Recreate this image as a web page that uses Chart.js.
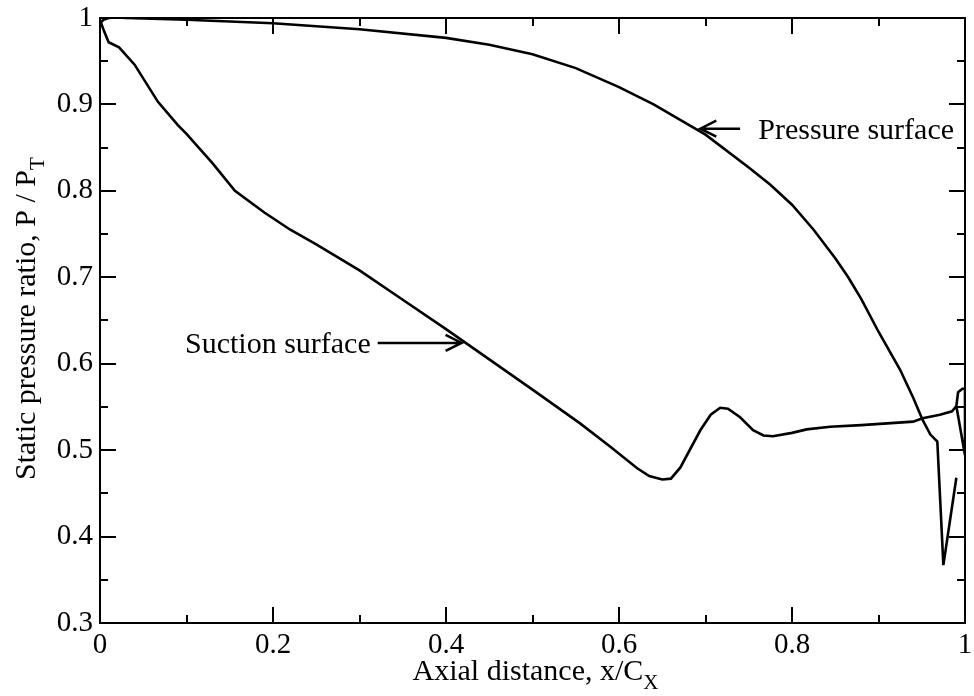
<!DOCTYPE html>
<html>
<head>
<meta charset="utf-8">
<script src="https://cdn.jsdelivr.net/npm/chart.js@4/dist/chart.umd.min.js"></script>
<style>
  html, body { margin: 0; padding: 0; background: #fff; }
  #wrap { width: 974px; height: 696px; }
</style>
</head>
<body>
<div id="wrap"><canvas id="cpChart" width="974" height="696"></canvas></div>
<script>
// surface static pressure along the blade

const pressureX = [0.001, 0.004, 0.01, 0.02, 0.03, 0.1, 0.2, 0.3, 0.4, 0.45, 0.5, 0.55, 0.6, 0.64, 0.7, 0.75, 0.775, 0.8, 0.825, 0.85, 0.865, 0.88, 0.9, 0.925, 0.94, 0.951, 0.96, 0.968, 0.975, 0.99];
const pressureY = [0.995, 0.998, 1.0, 1.001, 1.0, 0.998, 0.994, 0.987, 0.977, 0.969, 0.958, 0.942, 0.92, 0.9, 0.865, 0.827, 0.807, 0.784, 0.755, 0.722, 0.7, 0.675, 0.637, 0.593, 0.561, 0.535, 0.518, 0.51, 0.367, 0.468];

const suctionX = [0.001, 0.005, 0.01, 0.022, 0.04, 0.067, 0.09, 0.1, 0.13, 0.156, 0.19, 0.22, 0.25, 0.3, 0.35, 0.4, 0.45, 0.5, 0.555, 0.59, 0.621, 0.635, 0.65, 0.66, 0.671, 0.694, 0.706, 0.717, 0.726, 0.74, 0.755, 0.767, 0.778, 0.8, 0.817, 0.844, 0.88, 0.94, 0.951, 0.971, 0.985, 0.99, 0.992, 0.997, 1.0, 1.0, 0.99];
const suctionY = [0.995, 0.984, 0.972, 0.966, 0.946, 0.903, 0.876, 0.866, 0.832, 0.8, 0.775, 0.755, 0.738, 0.708, 0.674, 0.64, 0.605, 0.57, 0.531, 0.504, 0.479, 0.47, 0.466, 0.467, 0.48, 0.523, 0.541, 0.549, 0.548, 0.538, 0.523, 0.517, 0.516, 0.52, 0.524, 0.527, 0.529, 0.533, 0.537, 0.541, 0.545, 0.551, 0.567, 0.571, 0.571, 0.494, 0.551];

const xMajor = [0, 0.2, 0.4, 0.6, 0.8, 1];
const xMinor = [0.1, 0.3, 0.5, 0.7, 0.9];
const yMajor = [0.3, 0.4, 0.5, 0.6, 0.7, 0.8, 0.9, 1];
const yMinor = [0.35, 0.45, 0.55, 0.65, 0.75, 0.85, 0.95];

const FONT = "'Liberation Serif', 'DejaVu Serif', serif";

function toPoints(xs, ys) {
    return xs.map((x, i) => ({ x: x, y: ys[i] }));
}

// frame, inward ticks, arrows and axis titles (grace style)
const gracePlot = {
    id: "gracePlot",
    afterDraw(chart) {
        const ctx = chart.ctx;
        const xs = chart.scales.x;
        const ys = chart.scales.y;
        const a = chart.chartArea;

        ctx.save();
        ctx.strokeStyle = "#000";
        ctx.lineWidth = 2;
        ctx.strokeRect(a.left, a.top, a.right - a.left, a.bottom - a.top);

        const tick = (vals, len, horiz) => {
            vals.forEach(v => {
                ctx.beginPath();
                if (horiz) {
                    const px = Math.round(xs.getPixelForValue(v));
                    ctx.moveTo(px, a.bottom); ctx.lineTo(px, a.bottom - len);
                    ctx.moveTo(px, a.top); ctx.lineTo(px, a.top + len);
                } else {
                    const py = Math.round(ys.getPixelForValue(v));
                    ctx.moveTo(a.left, py); ctx.lineTo(a.left + len, py);
                    ctx.moveTo(a.right, py); ctx.lineTo(a.right - len, py);
                }
                ctx.stroke();
            });
        };
        tick(xMajor, 16, true);
        tick(xMinor, 8, true);
        tick(yMajor, 16, false);
        tick(yMinor, 8, false);

        // annotation arrows
        const arrow = (x0, x1, yv) => {
            const px0 = xs.getPixelForValue(x0);
            const px1 = xs.getPixelForValue(x1);
            const py = ys.getPixelForValue(yv);
            const dir = px1 > px0 ? -1 : 1;
            ctx.lineWidth = 2.5;
            ctx.beginPath();
            ctx.moveTo(px0, py); ctx.lineTo(px1, py);
            ctx.moveTo(px1 + dir * 16, py - 8); ctx.lineTo(px1, py); ctx.lineTo(px1 + dir * 16, py + 8);
            ctx.stroke();
            return py;
        };
        ctx.fillStyle = "#000";
        ctx.font = "30px " + FONT;
        ctx.textBaseline = "middle";

        let py = arrow(0.74, 0.694, 0.872);
        ctx.textAlign = "left";
        ctx.fillText("Pressure surface", xs.getPixelForValue(0.761), py + 2);

        py = arrow(0.321, 0.418, 0.624);
        ctx.textAlign = "right";
        ctx.fillText("Suction surface", xs.getPixelForValue(0.313), py + 2);

        // x axis title with subscript
        ctx.textBaseline = "alphabetic";
        ctx.textAlign = "left";
        const xt = "Axial distance, x/C";
        ctx.font = "30px " + FONT;
        const w1 = ctx.measureText(xt).width;
        ctx.font = "21px " + FONT;
        const w2 = ctx.measureText("X").width;
        let sx = (a.left + a.right) / 2 - (w1 + w2) / 2 + 3;
        ctx.font = "30px " + FONT;
        ctx.fillText(xt, sx, 680);
        ctx.font = "21px " + FONT;
        ctx.fillText("X", sx + w1, 689);

        // y axis title, rotated
        ctx.translate(35, 480);
        ctx.rotate(-Math.PI / 2);
        const yt = "Static pressure ratio, P / P";
        ctx.font = "30px " + FONT;
        ctx.fillText(yt, 0, 0);
        const w3 = ctx.measureText(yt).width;
        ctx.font = "21px " + FONT;
        ctx.fillText("T", w3, 9);

        ctx.restore();
    }
};

const ctx = document.getElementById("cpChart");

new Chart(ctx, {

    type: "scatter",

    data: {
        datasets: [
            {
                label: "Pressure surface",
                data: toPoints(pressureX, pressureY),
                showLine: true,
                borderColor: "#000",
                borderWidth: 2.6,
                pointRadius: 0,
                tension: 0
            },
            {
                label: "Suction surface",
                data: toPoints(suctionX, suctionY),
                showLine: true,
                borderColor: "#000",
                borderWidth: 2.6,
                pointRadius: 0,
                tension: 0
            }
        ]
    },

    options: {
        responsive: false,
        animation: false,
        layout: {
            padding: { left: 0, top: 18, right: 9, bottom: 0 }
        },
        plugins: {
            legend: { display: false },
            tooltip: { enabled: false }
        },
        scales: {
            x: {
                type: "linear",
                min: 0,
                max: 1,
                grid: { display: false, drawTicks: false },
                border: { display: false },
                afterFit: s => {
                    s.height = 73;
                    s.paddingLeft = 0;
                    s.paddingRight = 0;
                },
                ticks: {
                    stepSize: 0.2,
                    padding: 8,
                    color: "#000",
                    font: { family: FONT, size: 29, lineHeight: 1 },
                    callback: v => String(+v.toFixed(1))
                }
            },
            y: {
                type: "linear",
                min: 0.3,
                max: 1,
                grid: { display: false, drawTicks: false },
                border: { display: false },
                afterFit: s => {
                    s.width = 100;
                    s.paddingTop = 0;
                    s.paddingBottom = 0;
                },
                ticks: {
                    stepSize: 0.1,
                    padding: 7,
                    color: "#000",
                    font: { family: FONT, size: 29, lineHeight: 1 },
                    callback: v => String(+v.toFixed(1))
                }
            }
        }
    },

    plugins: [gracePlot]

});
</script>
</body>
</html>
